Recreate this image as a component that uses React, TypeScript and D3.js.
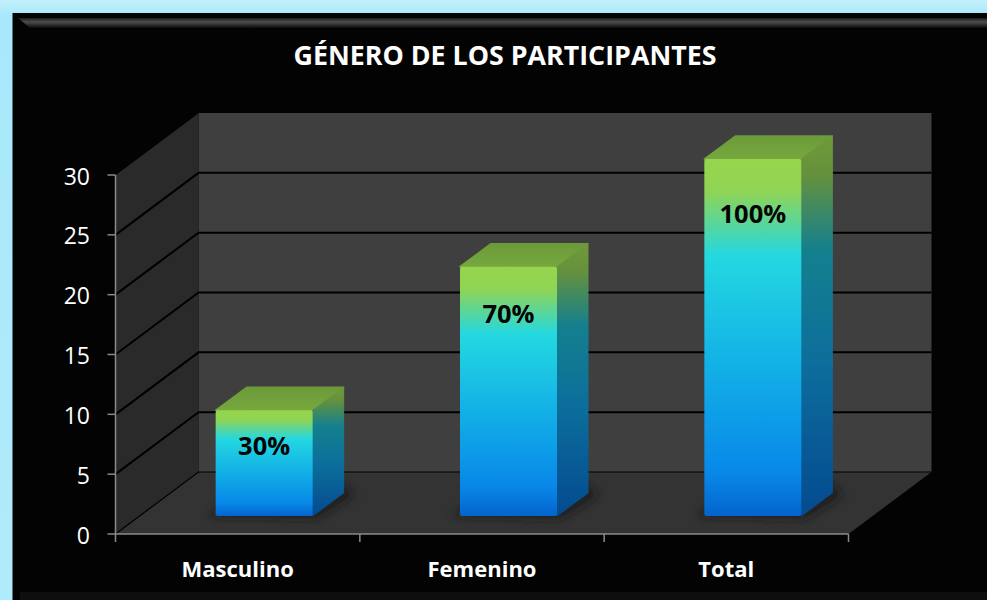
import React from "react";
import * as d3 from "d3";

const title = "GÉNERO DE LOS PARTICIPANTES";
const categories = ["Masculino", "Femenino", "Total"];
const values = [9, 21, 30];
const labels = ["30%", "70%", "100%"];
const yTicks = [0, 5, 10, 15, 20, 25, 30];

const W = 987, H = 600;
const x0 = 115.5, x1 = 848.5, y0 = 534, y30 = 175;
const depthX = 83, depthY = -62;
const barW = 97;
const barDX = 31, barDY = -23;

const x = d3.scaleBand<string>().domain(categories).range([x0, x1]);
const y = d3.scaleLinear().domain([0, 30]).range([y0, y30]);
const labelDrop = d3.scaleLinear().domain([9, 30]).range([45, 64]);

const poly = (pts: number[][]) => (d3.line()(pts as [number, number][]) ?? "") + "Z";

export default function App() {
  return (
    <svg width={W} height={H} style={{ position: "absolute", left: 0, top: 0 }} fontFamily="'Open Sans', sans-serif">
      <defs>
        <linearGradient id="frameTop" x1="0" x2="0" y1="0" y2="1">
          <stop offset="0" stopColor="#c4f0fb" />
          <stop offset="0.025" stopColor="#a8e8fa" />
          <stop offset="1" stopColor="#b0ebfb" />
        </linearGradient>
        <linearGradient id="bevel" x1="0" x2="0" y1="0" y2="1">
          <stop offset="0" stopColor="#1c1c1c" />
          <stop offset="0.4" stopColor="#4c4c4c" />
          <stop offset="1" stopColor="#0c0c0c" />
        </linearGradient>
        <linearGradient id="front" x1="0" x2="0" y1="0" y2="1">
          <stop offset="0" stopColor="#96d54c" />
          <stop offset="0.09" stopColor="#90d454" />
          <stop offset="0.27" stopColor="#24d8e0" />
          <stop offset="0.55" stopColor="#14b4e6" />
          <stop offset="0.88" stopColor="#0888e8" />
          <stop offset="1" stopColor="#0464cc" />
        </linearGradient>
        <linearGradient id="side" x1="0" x2="0" y1="0" y2="1">
          <stop offset="0" stopColor="#6f9a38" />
          <stop offset="0.1" stopColor="#66913c" />
          <stop offset="0.3" stopColor="#14808e" />
          <stop offset="0.6" stopColor="#0c6e9c" />
          <stop offset="1" stopColor="#044a90" />
        </linearGradient>
        <linearGradient id="topFace" x1="0" x2="0" y1="1" y2="0">
          <stop offset="0" stopColor="#76a83e" />
          <stop offset="1" stopColor="#6c9a3a" />
        </linearGradient>
        <filter id="blur" x="-30%" y="-30%" width="160%" height="160%">
          <feGaussianBlur stdDeviation="5" />
        </filter>
        <filter id="soft" x="-5%" y="-5%" width="110%" height="110%">
          <feGaussianBlur stdDeviation="0.6" />
        </filter>
      </defs>

      <rect width={W} height={H} fill="url(#frameTop)" />
      <rect x={12.5} y={13} width={W - 12.5} height={H - 13} fill="#030303" />
      <path d={poly([[18, 18], [W, 18], [W, 28], [30, 28]])} fill="url(#bevel)" filter="url(#soft)" />
      <rect x={20} y={592} width={W - 20} height={8} fill="#0e0e0e" />

      <text x={505} y={65} textAnchor="middle" fontSize={26.8} fontWeight={700} fill="#fff">{title}</text>

      {/* walls */}
      <path d={poly([[x0 + depthX, y30 + depthY], [x1 + depthX, y30 + depthY], [x1 + depthX, y0 + depthY], [x0 + depthX, y0 + depthY]])} fill="#3f3f3f" />
      <path d={poly([[x0, y30], [x0 + depthX, y30 + depthY], [x0 + depthX, y0 + depthY], [x0, y0]])} fill="#2a2a2a" />
      <path d={poly([[x0, y0], [x0 + depthX, y0 + depthY], [x1 + depthX, y0 + depthY], [x1, y0]])} fill="#333333" />

      {/* gridlines */}
      {yTicks.filter(t => t !== 30).map(t => (
        <path key={t}
          d={`M${x0},${y(t)}L${x0 + depthX},${y(t) + depthY}L${x1 + depthX},${y(t) + depthY}`}
          fill="none" stroke="#000" strokeWidth={t === 0 ? 1.2 : 2} />
      ))}
      <path d={`M${x0},${y(30)}L${x0 + depthX},${y(30) + depthY}`} fill="none" stroke="#000" strokeWidth={0.5} />

      {/* axes */}
      <path d={`M${x0},${y30}V${y0}H${x1}`} fill="none" stroke="#8a8a8a" strokeWidth={1.5} />
      {yTicks.map(t => (
        <g key={t}>
          <line x1={x0 - 8} x2={x0} y1={y(t)} y2={y(t)} stroke="#8a8a8a" strokeWidth={1.5} />
          <text x={90} y={y(t) + 9.5} textAnchor="end" fontSize={23} fill="#fff">{t}</text>
        </g>
      ))}
      {[x0, ...categories.map(c => x(c)! + x.bandwidth())].map((tx, i) => (
        <line key={i} x1={tx} x2={tx} y1={y0} y2={y0 + 8} stroke="#8a8a8a" strokeWidth={1.5} />
      ))}
      {categories.map(c => (
        <text key={c} x={x(c)! + x.bandwidth() / 2} y={577} textAnchor="middle" fontSize={22} fontWeight={700} fill="#fff">{c}</text>
      ))}

      {/* bars */}
      {categories.map((c, i) => {
        const left = x(c)! + (x.bandwidth() - barW) / 2 + 26.5;
        const right = left + barW;
        const bottom = y(0) - 18;
        const top = y(values[i]) - 16;
        return (
          <g key={c}>
            <path d={poly([[left - 8, bottom], [right + 4, bottom + 2], [right + barDX + 10, bottom + barDY + 2], [right + barDX, bottom + barDY - 8], [left + 10, bottom - 10]])} fill="#141414" opacity={0.75} filter="url(#blur)" />
            <path d={poly([[left, top], [left + barDX, top + barDY], [right + barDX, top + barDY], [right, top]])} fill="url(#topFace)" stroke="url(#topFace)" strokeWidth={1.5} strokeLinejoin="round" />
            <path d={poly([[right, top], [right + barDX, top + barDY], [right + barDX, bottom + barDY], [right, bottom]])} fill="url(#side)" stroke="url(#side)" strokeWidth={1} strokeLinejoin="round" />
            <rect x={left} y={top} width={barW} height={bottom - top} rx={2} fill="url(#front)" />
            <text x={(left + right) / 2} y={top + labelDrop(values[i])} textAnchor="middle" fontSize={25.5} fontWeight={700} fill="#050505">{labels[i]}</text>
          </g>
        );
      })}
    </svg>
  );
}
